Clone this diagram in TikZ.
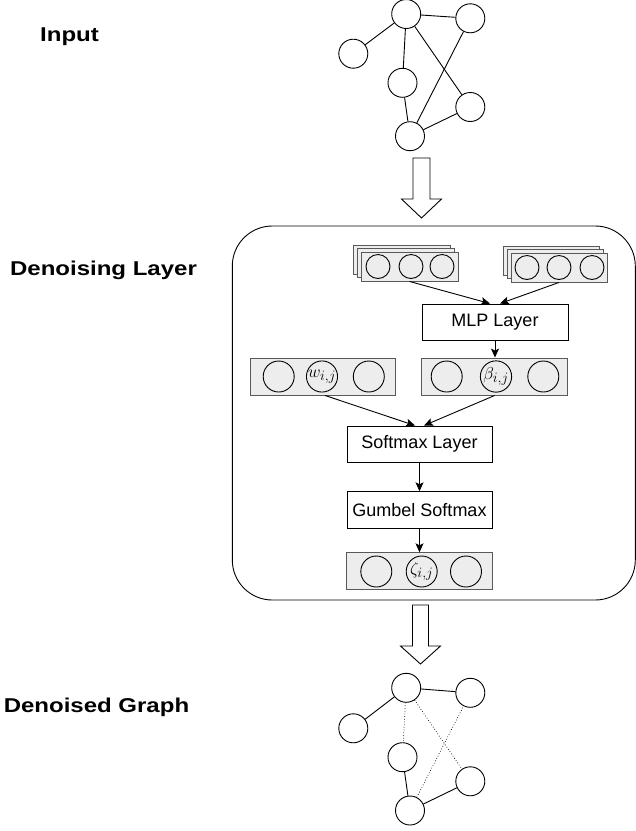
\documentclass[tikz,border=0pt]{standalone}
\usepackage{fontspec}
\setmainfont{Liberation Sans}
\usetikzlibrary{arrows.meta}
\begin{document}
\begin{tikzpicture}[x=1pt,y=-1pt,
  gnode/.style={circle,draw,line width=0.9pt,minimum size=29pt,inner sep=0pt},
  gedge/.style={line width=0.9pt},
  dedge/.style={line width=0.7pt,dotted},
  rowbox/.style={draw=black!65,fill=black!7,line width=0.9pt,inner sep=0pt},
  cell/.style={circle,draw,line width=0.9pt,minimum size=31pt,inner sep=0pt,font=\fontsize{19}{21}\selectfont},
  scell/.style={circle,draw,line width=0.9pt,minimum size=24pt,inner sep=0pt},
  layerbox/.style={draw,fill=white,line width=0.9pt,minimum width=146pt,minimum height=36pt,inner sep=0pt,font=\fontsize{18}{20}\selectfont},
  arr/.style={line width=0.9pt,-{Stealth[length=9pt,width=8pt,inset=2pt]}},
  blockarrow/.style={draw,line width=0.9pt,fill=white,line join=miter},
  lbl/.style={anchor=base,font=\fontsize{20}{22}\selectfont\bfseries}
]
\useasboundingbox (0,0) rectangle (636,831);

% labels
\node[lbl] (linput) at (69.5,41.7) {\scalebox{1.2}[1]{Input}};
\node[lbl] (lden) at (103.5,275.7) {\scalebox{1.2}[1]{Denoising Layer}};
\node[lbl] (lout) at (96.5,712.7) {\scalebox{1.2}[1]{Denoised Graph}};

% input graph
\node[gnode] (a1) at (406.2,14) {};
\node[gnode] (b1) at (470.3,18.3) {};
\node[gnode] (c1) at (353.3,53.7) {};
\node[gnode] (d1) at (402.5,82.8) {};
\node[gnode] (e1) at (470.3,107) {};
\node[gnode] (f1) at (410,136.2) {};
\draw[gedge] (a1) -- (c1);
\draw[gedge] (a1) -- (b1);
\draw[gedge] (a1) -- (d1);
\draw[gedge] (a1) -- (e1);
\draw[gedge] (d1) -- (f1);
\draw[gedge] (f1) -- (b1);
\draw[gedge] (f1) -- (e1);

% block arrows
\coordinate (ba1top) at (421.5,158);
\coordinate (ba1tip) at (421.5,218);
\draw[blockarrow] ([xshift=-8.5pt]ba1top) -- ([xshift=8.5pt]ba1top) -- ([xshift=8.5pt,yshift=19pt]ba1tip) -- ([xshift=20pt,yshift=19pt]ba1tip) -- (ba1tip) -- ([xshift=-20pt,yshift=19pt]ba1tip) -- ([xshift=-8.5pt,yshift=19pt]ba1tip) -- cycle;
\coordinate (ba2top) at (420.5,605);
\coordinate (ba2tip) at (420.5,664);
\draw[blockarrow] ([xshift=-8pt]ba2top) -- ([xshift=8pt]ba2top) -- ([xshift=8pt,yshift=18pt]ba2tip) -- ([xshift=20pt,yshift=18pt]ba2tip) -- (ba2tip) -- ([xshift=-20pt,yshift=18pt]ba2tip) -- ([xshift=-8pt,yshift=18pt]ba2tip) -- cycle;

% denoising layer container
\node[draw,line width=0.9pt,rounded corners=40pt,minimum width=403pt,minimum height=374pt,inner sep=0pt] (den) at (433.8,413) {};

% left stack
\node[rowbox,minimum width=97pt,minimum height=29pt] (lsb) at (401.5,259.5) {};
\node[rowbox,minimum width=97pt,minimum height=29pt] (lsm) at (405.5,263) {};
\node[rowbox,minimum width=97pt,minimum height=29pt] (lsf) at (409.5,266.5) {};
\node[scell] (ls1) at (378,266.5) {};
\node[scell] (ls2) at (411,266.5) {};
\node[scell] (ls3) at (442,266.5) {};
% right stack
\node[rowbox,minimum width=96pt,minimum height=29pt] (rsb) at (551,260.5) {};
\node[rowbox,minimum width=96pt,minimum height=29pt] (rsm) at (555,264) {};
\node[rowbox,minimum width=96pt,minimum height=29pt] (rsf) at (559,267.5) {};
\node[scell] (rs1) at (527,267.5) {};
\node[scell] (rs2) at (559,267.5) {};
\node[scell] (rs3) at (592,267.5) {};

% MLP
\node[layerbox] (mlp) at (495,322) {MLP Layer};
\draw[arr] (lsf.south) -- ([xshift=-5pt]mlp.north);
\draw[arr] (rsf.south) -- ([xshift=5pt]mlp.north);

% w row
\node[rowbox,minimum width=145pt,minimum height=37pt] (wrow) at (322.5,376.5) {};
\node[cell] (w1) at (278.7,376.5) {};
\node[cell] (w2) at (322,376.5) {$w_{i,j}$};
\node[cell] (w3) at (368.8,376.5) {};
% beta row
\node[rowbox,minimum width=146pt,minimum height=37pt] (brow) at (494.7,376.5) {};
\node[cell] (b1c) at (446.7,376.5) {};
\node[cell] (b2c) at (496,376.5) {$\beta_{i,j}$};
\node[cell] (b3c) at (543.3,376.5) {};
\draw[arr] (mlp.south) -- (brow.north -| mlp.south);

% softmax, gumbel
\node[layerbox,minimum width=145pt] (soft) at (419.5,444) {Softmax Layer};
\node[layerbox,minimum width=145pt,minimum height=36.5pt] (gum) at (419.5,510) {Gumbel Softmax};
\draw[arr] ([xshift=2.5pt]wrow.south) -- ([xshift=-4.5pt]soft.north);
\draw[arr] (brow.south) -- ([xshift=4.5pt]soft.north);
\draw[arr] (soft) -- (gum);

% zeta row
\node[rowbox,minimum width=146pt,minimum height=36.5pt] (zrow) at (419.7,571) {};
\node[cell] (z1) at (376.3,571.5) {};
\node[cell] (z2) at (421.7,571.5) {$\zeta_{i,j}$};
\node[cell] (z3) at (466,571.5) {};
\draw[arr] (gum.south) -- (zrow.north -| gum.south);

% denoised graph
\node[gnode] (a2) at (406.2,687.8) {};
\node[gnode] (b2) at (470.3,692.8) {};
\node[gnode] (c2) at (353.3,728.3) {};
\node[gnode] (d2) at (402.5,757.2) {};
\node[gnode] (e2) at (470.3,781.3) {};
\node[gnode] (f2) at (410,810.5) {};
\draw[gedge] (a2) -- (c2);
\draw[gedge] (a2) -- (b2);
\draw[dedge] (a2) -- (d2);
\draw[dedge] (a2) -- (e2);
\draw[gedge] (d2) -- (f2);
\draw[dedge] (f2) -- (b2);
\draw[gedge] (f2) -- (e2);
\end{tikzpicture}
\end{document}
